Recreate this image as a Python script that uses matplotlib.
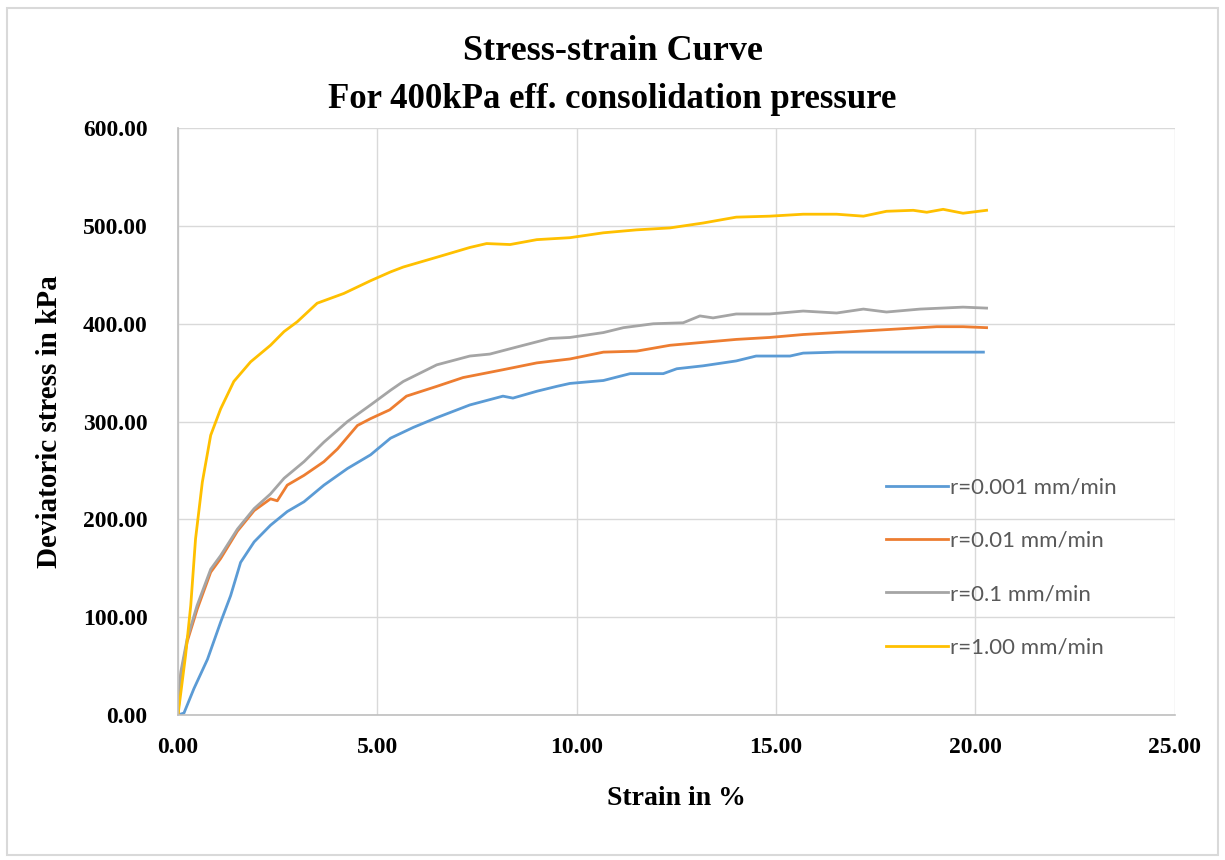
import matplotlib
matplotlib.use("Agg")
import matplotlib.pyplot as plt
from matplotlib.patches import Rectangle

# strain (%) / deviatoric stress (kPa)
strain_0001 = [0, 0.15, 0.4, 0.74, 1.07, 1.32, 1.57, 1.91, 2.32, 2.74, 3.16, 3.66, 4.25, 4.83,
               5.33, 5.9, 6.49, 7.32, 8.15, 8.4, 9.0, 9.5, 9.83, 10.67, 11.34, 12.17, 12.51,
               13.17, 14.0, 14.5, 15.35, 15.68, 16.52, 17.35, 18.19, 19.03, 20.2]
stress_0001 = [0, 2, 27, 57, 95, 122, 156, 177, 194, 208, 218, 235, 252, 266,
               283, 294, 304, 317, 326, 324, 331, 336, 339, 342, 349, 349, 354,
               357, 362, 367, 367, 370, 371, 371, 371, 371, 371]

strain_001 = [0, 0.07, 0.23, 0.48, 0.82, 1.07, 1.49, 1.91, 2.32, 2.49, 2.74, 3.16, 3.66, 4.0,
              4.5, 4.83, 5.31, 5.73, 6.49, 7.15, 8.15, 9.0, 9.83, 10.67, 11.5, 12.34, 13.17,
              14.0, 14.84, 15.68, 16.52, 17.35, 18.19, 19.03, 19.69, 20.28]
stress_001 = [0, 40, 75, 108, 146, 160, 188, 209, 221, 219, 235, 245, 259, 272,
              296, 303, 312, 326, 336, 345, 353, 360, 364, 371, 372, 378, 381,
              384, 386, 389, 391, 393, 395, 397, 397, 396]

strain_01 = [0, 0.07, 0.23, 0.48, 0.82, 1.07, 1.49, 1.91, 2.32, 2.66, 3.16, 3.66, 4.25, 4.83,
             5.33, 5.65, 6.49, 7.32, 7.82, 8.57, 9.33, 9.83, 10.67, 11.17, 11.92, 12.67, 13.09,
             13.42, 14.0, 14.84, 15.68, 16.52, 17.19, 17.77, 18.61, 19.69, 20.28]
stress_01 = [0, 44, 78, 112, 149, 163, 190, 211, 226, 242, 259, 279, 300, 317,
             332, 341, 358, 367, 369, 377, 385, 386, 391, 396, 400, 401, 408,
             406, 410, 410, 413, 411, 415, 412, 415, 417, 416]

strain_1 = [0, 0.19, 0.32, 0.44, 0.61, 0.82, 1.07, 1.40, 1.82, 2.32, 2.66, 2.99, 3.49, 4.16,
            4.83, 5.33, 5.65, 6.49, 7.32, 7.74, 8.33, 9.0, 9.83, 10.67, 11.5, 12.34, 13.17,
            14.0, 14.84, 15.68, 16.52, 17.19, 17.77, 18.44, 18.78, 19.19, 19.69, 20.28]
stress_1 = [0, 61, 112, 180, 238, 286, 313, 341, 361, 378, 392, 402, 421, 431,
            444, 453, 458, 468, 478, 482, 481, 486, 488, 493, 496, 498, 503,
            509, 510, 512, 512, 510, 515, 516, 514, 517, 513, 516]

labels = ["r=0.001 mm/min", "r=0.01 mm/min", "r=0.1 mm/min", "r=1.00 mm/min"]
x_ticks = [0, 5, 10, 15, 20, 25]
y_ticks = [0, 100, 200, 300, 400, 500, 600]

serif = "Liberation Serif"

fig = plt.figure(figsize=(12.25, 8.6), dpi=100)
ax = fig.add_axes([0.1453, 0.1686, 0.8137, 0.6824])

ax.plot(strain_0001, stress_0001, color="#5B9BD5", lw=2.0, label=labels[0])
ax.plot(strain_001, stress_001, color="#ED7D31", lw=2.0, label=labels[1])
ax.plot(strain_01, stress_01, color="#A5A5A5", lw=2.0, label=labels[2])
ax.plot(strain_1, stress_1, color="#FFC000", lw=2.0, label=labels[3])

ax.set_xlim(0, 25)
ax.set_ylim(0, 600)
ax.set_xticks(x_ticks)
ax.set_yticks(y_ticks)
ax.set_xticklabels([f"{v:.2f}" for v in x_ticks], fontfamily=serif, fontweight="bold", fontsize=17)
ax.set_yticklabels([f"{v:.2f}" for v in y_ticks], fontfamily=serif, fontweight="bold", fontsize=17)
ax.tick_params(length=0)
ax.tick_params(axis="x", pad=16)
ax.tick_params(axis="y", pad=22)

ax.grid(True, color="#d9d9d9", lw=1.0)
ax.set_axisbelow(True)
for s in ["top", "right"]:
    ax.spines[s].set_visible(False)
for s in ["left", "bottom"]:
    ax.spines[s].set_color("#bfbfbf")
    ax.spines[s].set_linewidth(1.2)

ax.set_xlabel("Strain in %", fontfamily=serif, fontweight="bold", fontsize=20, labelpad=20)
ax.set_ylabel("Deviatoric stress in kPa", fontfamily=serif, fontweight="bold", fontsize=21, labelpad=14)

fig.text(0.5, 1 - 52 / 860, "Stress-strain Curve", ha="center", va="center",
         fontfamily=serif, fontweight="bold", fontsize=26)
fig.text(0.5, 1 - 100 / 860, "For 400kPa eff. consolidation pressure", ha="center", va="center",
         fontfamily=serif, fontweight="bold", fontsize=25)

leg = ax.legend(loc="lower left", bbox_to_anchor=(0.69, 0.064), frameon=False,
                prop={"family": "Lato", "size": 16}, handlelength=2.8,
                handletextpad=0.1, labelspacing=1.5)
for t in leg.get_texts():
    t.set_color("#595959")

# light border around the whole picture
fig.patches.append(Rectangle((0.006, 0.006), 0.988, 0.985, transform=fig.transFigure,
                             fill=False, edgecolor="#d9d9d9", lw=1.5))

fig.savefig("out.png", dpi=100)
